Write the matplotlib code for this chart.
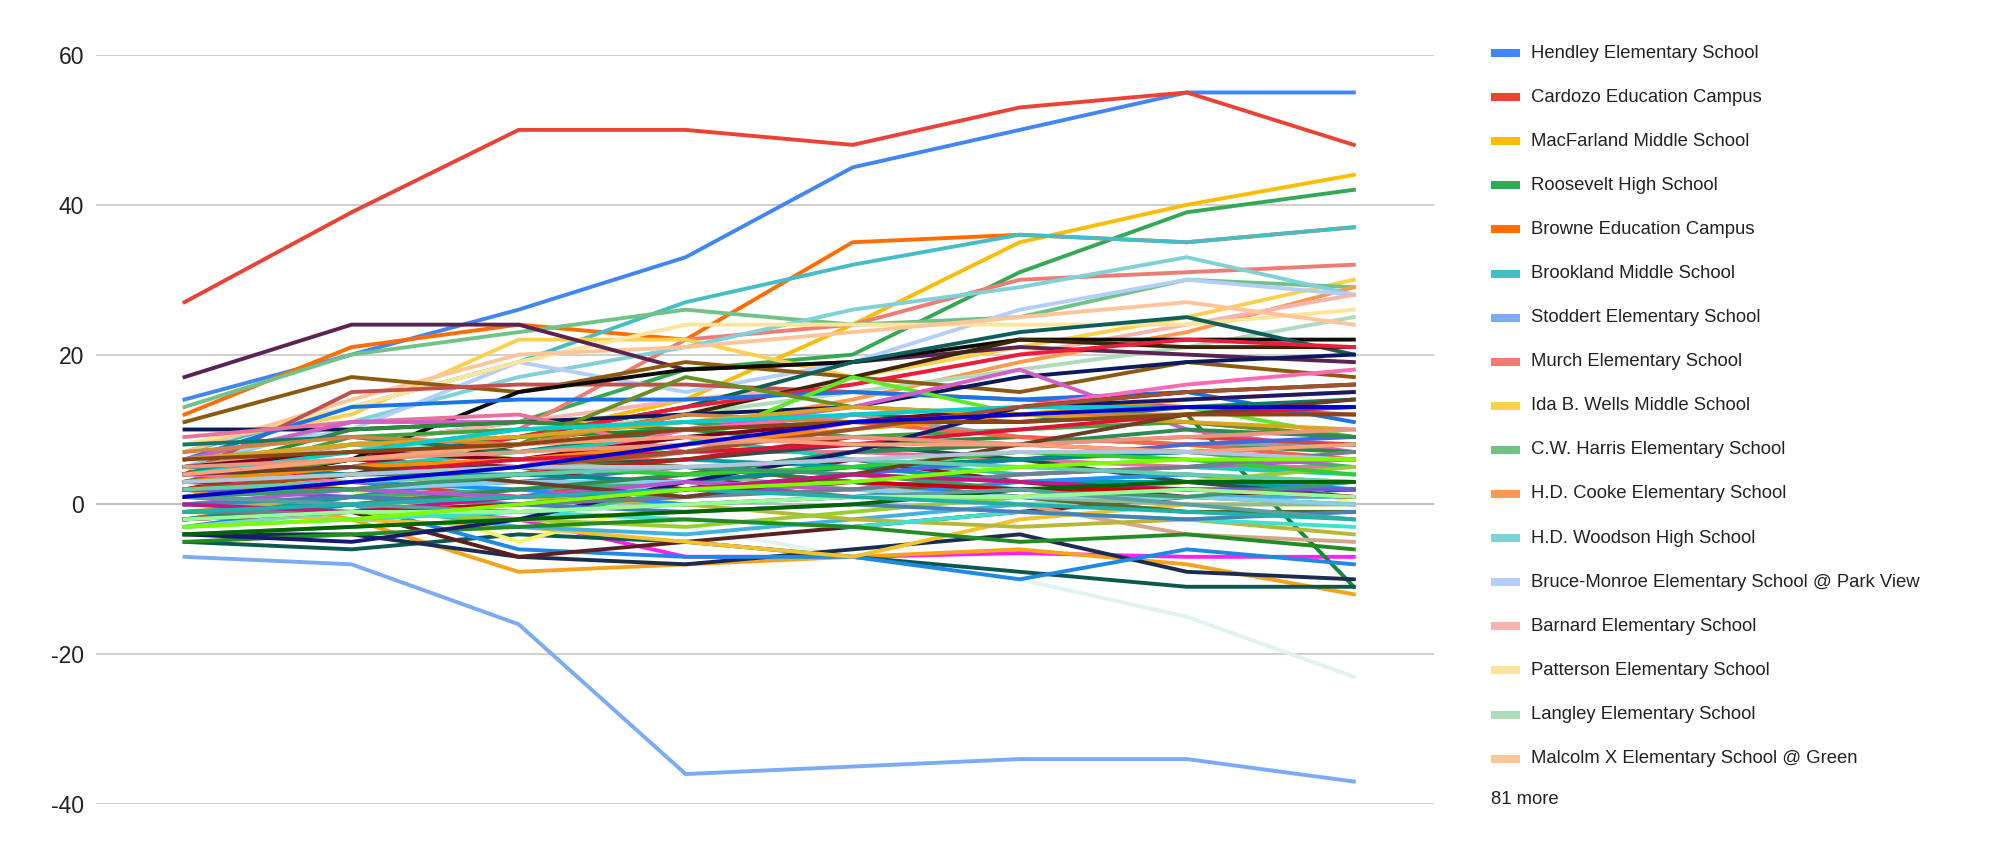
import matplotlib
matplotlib.use('Agg')
import matplotlib.pyplot as plt
from matplotlib.lines import Line2D

plt.rcParams['font.family'] = ['Liberation Sans', 'DejaVu Sans']
plt.rcParams['axes.unicode_minus'] = False

periods = list(range(8))

school_names = [
    'Hendley Elementary School',
    'Cardozo Education Campus',
    'MacFarland Middle School',
    'Roosevelt High School',
    'Browne Education Campus',
    'Brookland Middle School',
    'Stoddert Elementary School',
    'Murch Elementary School',
    'Ida B. Wells Middle School',
    'C.W. Harris Elementary School',
    'H.D. Cooke Elementary School',
    'H.D. Woodson High School',
    'Bruce-Monroe Elementary School @ Park View',
    'Barnard Elementary School',
    'Patterson Elementary School',
    'Langley Elementary School',
    'Malcolm X Elementary School @ Green',
]
school_colors = [
    '#4285f4', '#ea4335', '#fbbc04', '#34a853', '#ff6d01', '#46bdc6',
    '#7baaf7', '#f07b72', '#fcd04f', '#71c287', '#ff994d', '#7ed1d7',
    '#b3cefb', '#f7b4ae', '#fde49b', '#aedcba', '#ffc599',
]
school_values = [
    [14, 20, 26, 33, 45, 50, 55, 55],
    [27, 39, 50, 50, 48, 53, 55, 48],
    [3, 6, 9, 14, 24, 35, 40, 44],
    [5, 8, 11, 18, 20, 31, 39, 42],
    [12, 21, 24, 22, 35, 36, 35, 37],
    [7, 13, 19, 27, 32, 36, 35, 37],
    [-7, -8, -16, -36, -35, -34, -34, -37],
    [5, 7, 10, 22, 24, 30, 31, 32],
    [8, 12, 22, 22, 17, 21, 25, 30],
    [13, 20, 23, 26, 24, 25, 30, 29],
    [3, 6, 8, 10, 14, 19, 23, 29],
    [5, 11, 17, 21, 26, 29, 33, 28],
    [6, 10, 19, 15, 19, 26, 30, 28],
    [3, 8, 11, 14, 16, 20, 24, 28],
    [8, 13, 19, 24, 24, 24, 24, 26],
    [4, 7, 9, 12, 15, 18, 21, 25],
    [7, 14, 20, 21, 23, 25, 27, 24],
]

# the 81 schools that the legend folds into "81 more"
other_colors = [
    '#5b2350', '#8b5a10', '#c0504d', '#0b0b0b', '#0e5f5a', '#3d2508',
    '#ee1c3a', '#0a1a5c', '#1a73e8', '#5ee825', '#ff1ff0', '#f7a21b',
    '#128a32', '#dff3f1', '#0c5850', '#1b2d4f', '#1e88e5', '#5a1f1f',
    '#f6f26b', '#f2c12e',
    '#e8739a', '#d45fc4', '#2e8b3a', '#46a040', '#0f7c6a', '#d4a58a',
    '#8b1a2b', '#20c9b0', '#9b9b9b', '#42b0e0', '#7fd8c0', '#4a76a8',
    '#b8b838', '#e04040', '#33cc66', '#6b8e23', '#00a0a0', '#cc3366',
    '#ff6347', '#2f4f4f', '#3cb371', '#556b2f', '#1e90ff', '#8fbc8f',
    '#ff69b4', '#4169e1', '#800020', '#9acd32', '#cd853f', '#40e0d0',
    '#6a5acd', '#228b22', '#b22222', '#008b8b', '#daa520', '#ff8c00',
    '#87ceeb', '#dc143c', '#2e8b57', '#191970', '#ba55d3', '#00ced1',
    '#a0522d', '#32cd32', '#708090', '#e9967a', '#4682b4', '#6b3e26',
    '#3d9970', '#c71585', '#66cdaa', '#cc0000', '#006400', '#ffa07a',
    '#5f9ea0', '#98fb98', '#8b4513', '#20b2aa', '#b0c4de', '#0000cd',
    '#7cfc00',
]
other_values = [
    [17, 24, 24, 18, 19, 21, 20, 19],
    [11, 17, 15, 19, 17, 15, 19, 17],
    [4, 15, 16, 16, 15, 14, 13, 12],
    [2, 6, 15, 18, 19, 22, 22, 22],
    [3, 6, 9, 13, 19, 23, 25, 20],
    [1, 4, 8, 12, 17, 22, 21, 21],
    [2, 5, 9, 13, 16, 20, 22, 21],
    [10, 10, 11, 12, 13, 17, 19, 20],
    [6, 13, 14, 14, 15, 14, 15, 11],
    [-2, 1, 4, 8, 17, 12, 13, 9],
    [1, 0, -2, -7, -7, -6.5, -7, -7],
    [2, -2, -9, -8, -7, -6, -8, -12],
    [5, 8, 9, 10, 11, 11, 12, -11],
    [3, 2, 0, -3, -7, -10, -15, -23],
    [-5, -6, -4, -5, -7, -9, -11, -11],
    [-4, -4, -7, -8, -6, -4, -9, -10],
    [-3, 0, -6, -7, -7, -10, -6, -8],
    [-2, -1, -7, -5, -3, -1, 1, 2],
    [5, 2, -5, 1, 3, 5, 8, 0],
    [-1, -2, -3, -5, -7, -2, 0, 0],
    [9, 11, 12, 7, 7, 6, 5, 5],
    [6, 11, 11, 10, 13, 18, 10, 7],
    [4, 10, 11, 10, 8, 9, 8, 7],
    [3, 9, 10, 11, 9, 10, 11, 9],
    [8, 9, 7, 10, 12, 11, 13, 14],
    [5, 8, 6, 5, 3, 0, -4, -5],
    [3, 6, 5, 2, 6, 3, 1, 0],
    [3, 5, 7, 9, 6, 4, 5, 4],
    [1, 3, 5, 7, 12, 9, 8, 8],
    [0, 0, -3, -4, -2, 0, 1, 1],
    [-3, -1, 0, 3, 2, 0, 1, 0],
    [2, 2, 3, 5, 3, 1, -1, -1],
    [-1, 1, 1, 0, -2, -3, -2, -4],
    [2, 3, 1, 4, 7, 8, 9, 8],
    [-4, -3, -2, 2, 4, 3, 4, 3],
    [3, 6, 8, 17, 13, 12, 11, 9],
    [-2, 1, 4, 6, 5, 3, 3, 2],
    [1, 0, 2, 3, 1, 1, 2, 2],
    [2, 3, 4, 7, 11, 9, 8, 6],
    [4, 5, 5, 6, 8, 6, 3, 1],
    [0, 1, 2, 3, 5, 6, 7, 5],
    [4, 5, 6, 5, 3, 1, -1, -1],
    [1, 3, 2, 0, 1, 3, 4, 2],
    [6, 8, 6, 4, 2, 1, 0, 0],
    [4, 3, 5, 10, 12, 13, 16, 18],
    [-1, 0, 1, 2, 4, 6, 8, 9],
    [5, 7, 6, 9, 11, 13, 15, 16],
    [0, -1, -2, -3, -1, 1, 3, 5],
    [7, 9, 8, 12, 11, 12, 12, 13],
    [-3, -2, -1, -2, -3, -1, -2, -3],
    [2, 1, 0, 1, 3, 2, 2, 2],
    [-5, -4, -3, -2, -3, -5, -4, -6],
    [3, 2, 4, 6, 9, 8, 7, 6],
    [5, 4, 4, 3, 5, 6, 7, 8],
    [6, 8, 9, 11, 13, 12, 11, 10],
    [3, 5, 6, 8, 10, 12, 14, 15],
    [1, 2, 3, 3, 2, 1, 1, 0],
    [2, 4, 6, 7, 8, 10, 12, 13],
    [-2, 0, 2, 4, 7, 8, 10, 9],
    [-4, -5, -2, 3, 7, 13, 14, 15],
    [0, 2, 1, 3, 2, 4, 5, 6],
    [4, 7, 10, 11, 12, 13, 13, 13],
    [2, 4, 5, 7, 10, 13, 15, 16],
    [3, 4, 5, 4, 5, 7, 6, 4],
    [-1, -1, 0, 1, 2, 4, 5, 7],
    [5, 6, 7, 8, 9, 8, 9, 10],
    [0, 1, 0, -1, 0, -1, -2, -1],
    [4, 5, 3, 1, 4, 8, 12, 14],
    [1, 2, 4, 5, 4, 2, 1, 3],
    [0, -1, 1, 2, 4, 3, 2, 1],
    [2, 3, 4, 5, 6, 5, 4, 3],
    [-2, -1, 0, 2, 3, 2, 2, 1],
    [-4, -3, -2, -1, 0, 2, 3, 3],
    [4, 6, 8, 9, 8, 8, 7, 8],
    [1, 0, -1, 0, 1, 2, 0, -2],
    [-2, -1, -1, 0, 1, 1, 2, 1],
    [6, 7, 8, 10, 11, 11, 12, 12],
    [-1, 0, 1, 2, 1, 0, -1, -2],
    [3, 4, 5, 5, 6, 7, 7, 6],
    [1, 3, 5, 8, 11, 12, 13, 13],
    [-3, -2, 0, 2, 3, 5, 6, 6],
]

W, H = 2016, 859
fig = plt.figure(figsize=(W / 100, H / 100), dpi=100)
ax = fig.add_axes([96 / W, 1 - 804 / H, (1434 - 96) / W, (804 - 55) / H])

for vals, col in zip(school_values + other_values, school_colors + other_colors):
    ax.plot(periods, vals, color=col, lw=2.8, solid_joinstyle='round', zorder=3)

ax.set_xlim(-0.53, 7.48)
ax.set_ylim(-40, 60)
ax.set_yticks([-40, -20, 0, 20, 40, 60])
ax.set_xticks([])
ax.tick_params(axis='y', length=0, pad=8.5, labelsize=16.5, labelcolor='#222222')
for s in ax.spines.values():
    s.set_visible(False)
ax.grid(axis='y', color='#cccccc', lw=1.3, zorder=0)
ax.axhline(0, color='#333333', lw=1.4, zorder=1)

# legend on the right
for i, (name, col) in enumerate(zip(school_names, school_colors)):
    y = 1 - (53 + i * 44.1) / H
    fig.add_artist(Line2D([1491 / W, 1520 / W], [y, y], color=col, lw=5.8,
                          solid_capstyle='butt', transform=fig.transFigure))
    fig.text(1531 / W, y, name, fontsize=13.3, color='#222222', va='center')
fig.text(1491 / W, 1 - 800 / H, '%d more' % len(other_values), fontsize=13.3,
         color='#222222', va='center')

fig.savefig('out.png', dpi=100)
